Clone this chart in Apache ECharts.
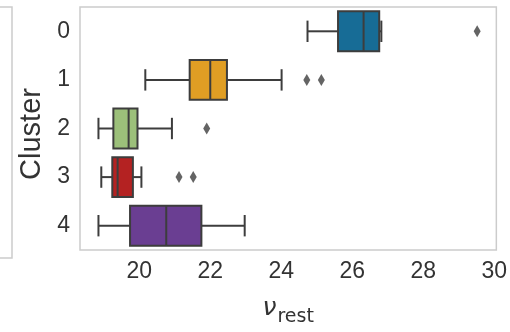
<!DOCTYPE html>
<html>
<head>
<meta charset="utf-8">
<script src="https://cdn.jsdelivr.net/npm/echarts@6/dist/echarts.min.js"></script>
<style>
html, body { margin: 0; padding: 0; background: #fff; }
#chartView { width: 510px; height: 332px; }
</style>
</head>
<body>
<div id="chartView"></div>
<script>
// box statistics per cluster
var clusters = ['0', '1', '2', '3', '4'];
var whiskerLow = [24.74, 20.17, 18.85, 18.93, 18.85];
var q1 = [25.60, 21.42, 19.27, 19.24, 19.74];
var median = [26.32, 22.00, 19.70, 19.39, 20.76];
var q3 = [26.76, 22.47, 19.95, 19.82, 21.75];
var whiskerHigh = [26.82, 24.01, 20.92, 20.06, 22.97];
var boxColors = ['#176c96', '#e09e24', '#9cc07a', '#b42222', '#6a3e92'];
// outliers: cluster index, value
var outlierCluster = [0, 1, 1, 2, 3, 3];
var outlierValue = [29.52, 24.72, 25.13, 21.90, 21.12, 21.52];
var xTicks = [20, 22, 24, 26, 28, 30];

var edge = '#3d3d3d';
var textColor = '#333333';

var chartView = echarts.init(document.getElementById('chartView'));

var boxData = [];
for (var i = 0; i < clusters.length; i++) {
	boxData.push([i, whiskerLow[i], q1[i], median[i], q3[i], whiskerHigh[i]]);
}
var outData = [];
for (var j = 0; j < outlierValue.length; j++) {
	outData.push([outlierValue[j], outlierCluster[j]]);
}

function renderBox(params, api) {
	var c = api.value(0);
	var band = api.size([0, 1])[1];
	var half = band * 0.41;
	var cap = band * 0.22;
	var pLow = api.coord([api.value(1), c]);
	var pQ1 = api.coord([api.value(2), c]);
	var pMed = api.coord([api.value(3), c]);
	var pQ3 = api.coord([api.value(4), c]);
	var pHigh = api.coord([api.value(5), c]);
	var y = pMed[1];
	var lineStyle = { stroke: edge, lineWidth: 2 };
	return {
		type: 'group',
		children: [
			{ type: 'line', shape: { x1: pLow[0], y1: y, x2: pQ1[0], y2: y }, style: lineStyle },
			{ type: 'line', shape: { x1: pQ3[0], y1: y, x2: pHigh[0], y2: y }, style: lineStyle },
			{ type: 'line', shape: { x1: pLow[0], y1: y - cap, x2: pLow[0], y2: y + cap }, style: lineStyle },
			{ type: 'line', shape: { x1: pHigh[0], y1: y - cap, x2: pHigh[0], y2: y + cap }, style: lineStyle },
			{
				type: 'rect',
				shape: { x: pQ1[0], y: y - half, width: pQ3[0] - pQ1[0], height: half * 2 },
				style: { fill: boxColors[c], stroke: edge, lineWidth: 2 }
			},
			{ type: 'line', shape: { x1: pMed[0], y1: y - half, x2: pMed[0], y2: y + half }, style: lineStyle }
		]
	};
}

var ops = {
	animation: false,
	textStyle: { fontFamily: 'Liberation Sans' },
	// frame of the neighbouring panel, cut off at the left edge
	graphic: [{
		type: 'polyline',
		shape: { points: [[-2, 7], [12, 7], [12, 258], [-2, 258]] },
		style: { fill: null, stroke: '#cccccc', lineWidth: 1.5 },
		silent: true
	}],
	grid: {
		left: 80,
		right: 11,
		top: 7,
		bottom: 74,
		show: true,
		borderColor: '#cccccc',
		borderWidth: 1.5
	},
	xAxis: {
		type: 'value',
		min: 18.33,
		max: 30.06,
		axisLine: { show: false },
		axisTick: { show: false },
		splitLine: { show: false },
		axisLabel: {
			customValues: xTicks,
			fontSize: 23,
			color: textColor,
			margin: 10
		},
		name: '{nu|ν}{sub|rest}',
		nameLocation: 'middle',
		nameGap: 46,
		nameTextStyle: {
			rich: {
				nu: { fontFamily: 'DejaVu Sans', fontStyle: 'italic', fontSize: 25, color: textColor, verticalAlign: 'bottom', padding: [0, 1, 6, 0] },
				sub: { fontFamily: 'DejaVu Sans', fontSize: 19, color: textColor, verticalAlign: 'bottom' }
			}
		}
	},
	yAxis: {
		type: 'category',
		data: clusters,
		inverse: true,
		axisLine: { show: false },
		axisTick: { show: false },
		splitLine: { show: false },
		axisLabel: { fontSize: 23, color: textColor, margin: 10 },
		name: 'Cluster',
		nameLocation: 'middle',
		nameRotate: 90,
		nameGap: 22,
		nameTextStyle: { fontSize: 29, color: textColor, padding: [0, 11, 0, 0] }
	},
	series: [{
		type: 'custom',
		renderItem: renderBox,
		data: boxData,
		z: 2
	}, {
		type: 'scatter',
		symbol: 'diamond',
		symbolSize: [7, 12],
		itemStyle: { color: edge },
		data: outData,
		z: 3
	}]
};
chartView.setOption(ops);
</script>
</body>
</html>
